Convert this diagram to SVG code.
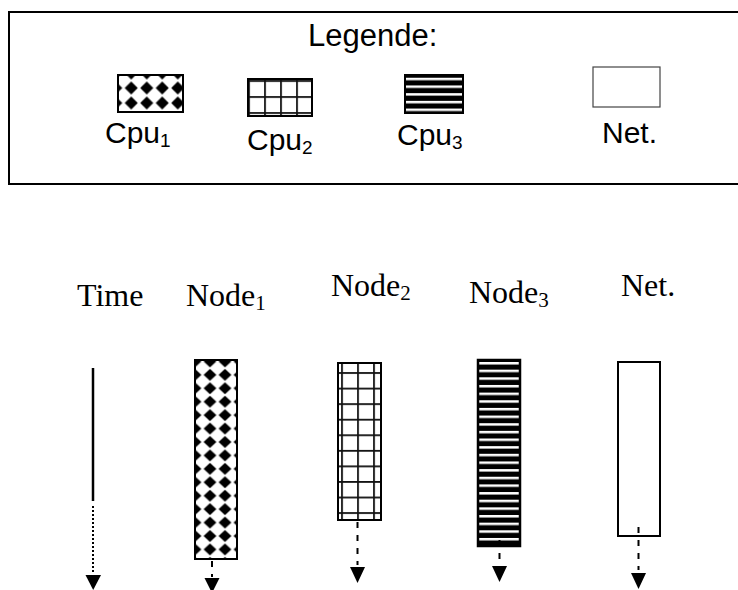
<svg xmlns="http://www.w3.org/2000/svg" width="738" height="590" viewBox="0 0 738 590">
<defs>
<pattern id="diaL" patternUnits="userSpaceOnUse" x="108" y="80.5" width="15.5" height="15">
<rect width="15.5" height="15" fill="#fff"/>
<polygon points="7.75,1 14.3,7.5 7.75,14 1.2,7.5" fill="#000"/>
</pattern>
<pattern id="diaC" patternUnits="userSpaceOnUse" x="187.5" y="354.7" width="15" height="13.43">
<rect width="15" height="13.43" fill="#fff"/>
<polygon points="7.5,0.7 13.9,6.7 7.5,12.7 1.1,6.7" fill="#000"/>
</pattern>
<pattern id="gridL" patternUnits="userSpaceOnUse" x="264.1" y="96.1" width="16" height="16">
<rect width="16" height="16" fill="#fff"/>
<rect x="0" y="0" width="1.8" height="16" fill="#111"/>
<rect x="0" y="0" width="16" height="1.8" fill="#111"/>
</pattern>
<pattern id="gridC" patternUnits="userSpaceOnUse" x="341.1" y="372.1" width="16" height="15.56">
<rect width="16" height="15.56" fill="#fff"/>
<rect x="0" y="0" width="1.8" height="15.56" fill="#111"/>
<rect x="0" y="0" width="16" height="1.8" fill="#111"/>
</pattern>
<pattern id="stripeL" patternUnits="userSpaceOnUse" x="0" y="77.75" width="10" height="7.7">
<rect width="10" height="7.7" fill="#000"/>
<rect y="0" width="10" height="2.5" fill="#fff"/>
</pattern>
<pattern id="stripeC" patternUnits="userSpaceOnUse" x="0" y="362" width="10" height="7.65">
<rect width="10" height="7.65" fill="#000"/>
<rect y="0" width="10" height="2.5" fill="#fff"/>
</pattern>
</defs>
<style>
.sans{font-family:"Liberation Sans",Arial,sans-serif;fill:#000}
.serif{font-family:"Liberation Serif","Times New Roman",serif;fill:#000}
.lg{font-size:30px}
.sm{font-size:19px}
.nd{font-size:32px}
.ns{font-size:21px}
.box{stroke:#000;stroke-width:2}
.dash{stroke:#000;stroke-width:2;stroke-dasharray:6 7;fill:none}
.head{fill:#000}
</style>
<rect width="738" height="590" fill="#fff"/>

<g id="legend">
<rect x="9" y="12" width="740" height="172" fill="none" stroke="#000" stroke-width="2"/>
<text class="sans" x="308" y="46" font-size="31">Legende:</text>
<g id="leg-cpu1">
<rect class="box" x="118" y="75" width="65" height="37" fill="url(#diaL)"/>
<text class="sans lg" x="105" y="143">Cpu<tspan class="sm" dy="4">1</tspan></text>
</g>
<g id="leg-cpu2">
<rect class="box" x="248" y="79" width="64" height="37" fill="url(#gridL)"/>
<text class="sans lg" x="247" y="150">Cpu<tspan class="sm" dy="4">2</tspan></text>
</g>
<g id="leg-cpu3">
<rect class="box" x="405" y="75" width="58" height="38" fill="url(#stripeL)"/>
<text class="sans lg" x="397" y="145">Cpu<tspan class="sm" dy="4">3</tspan></text>
</g>
<g id="leg-net">
<rect x="593" y="67" width="67" height="40" fill="#fff" stroke="#444" stroke-width="1.2"/>
<text class="sans lg" x="602" y="143">Net.</text>
</g>
</g>

<g id="time">
<text class="serif nd" x="77" y="306">Time</text>
</g>
<g id="node1">
<text class="serif nd" x="186" y="306">Node<tspan class="ns" dy="4">1</tspan></text>
<rect class="box" x="195" y="360" width="42" height="199" fill="url(#diaC)"/>
</g>
<g id="node2">
<text class="serif nd" x="331" y="296">Node<tspan class="ns" dy="4">2</tspan></text>
<rect class="box" x="338" y="363" width="43" height="157" fill="url(#gridC)"/>
</g>
<g id="node3">
<text class="serif nd" x="469" y="303">Node<tspan class="ns" dy="4">3</tspan></text>
<rect x="478" y="360" width="42" height="186" fill="url(#stripeC)" stroke="#000" stroke-width="2.5"/>
</g>
<g id="net">
<text class="serif nd" x="621" y="296">Net.</text>
<rect class="box" x="618" y="362" width="42" height="174" fill="#fff"/>
</g>

<g id="connectors">
<line x1="93" y1="368" x2="93" y2="501" stroke="#000" stroke-width="2.5"/>
<line x1="93" y1="506" x2="93" y2="573" stroke="#000" stroke-width="2" stroke-dasharray="2 2"/>
<polygon class="head" points="85.5,575 101,575 93.2,590"/>

<line class="dash" x1="212" y1="561" x2="212" y2="577"/>
<polygon class="head" points="204.5,578 219.5,578 212,593"/>

<line class="dash" x1="357.5" y1="522" x2="357.5" y2="565"/>
<polygon class="head" points="350,567 365,567 357.5,583"/>

<line class="dash" x1="499.5" y1="540" x2="499.5" y2="563"/>
<polygon class="head" points="492,566 507,566 499.5,582"/>

<line class="dash" x1="638.5" y1="527" x2="638.5" y2="570"/>
<polygon class="head" points="631,573 646,573 638.5,589"/>
</g>
</svg>
